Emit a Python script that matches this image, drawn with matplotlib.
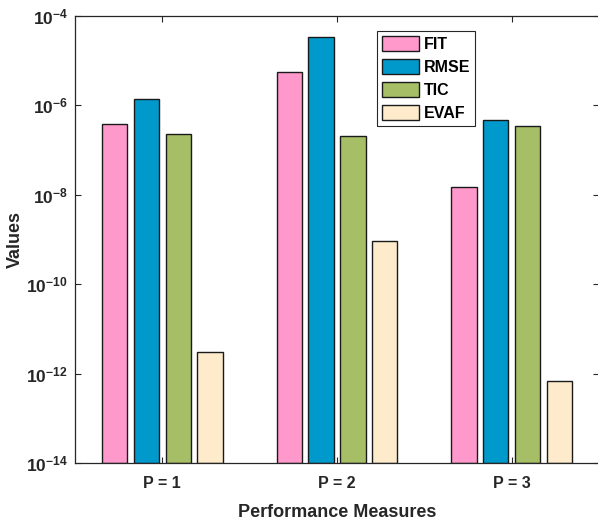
import numpy as np
import matplotlib
matplotlib.use("Agg")
import matplotlib.pyplot as plt
from matplotlib.ticker import FixedLocator, FuncFormatter, NullLocator

plt.rcParams['font.family'] = ['Liberation Sans', 'DejaVu Sans']
plt.rcParams['font.weight'] = 'bold'
plt.rcParams['mathtext.fontset'] = 'custom'
plt.rcParams['mathtext.rm'] = 'Liberation Sans:bold'
plt.rcParams['mathtext.it'] = 'Liberation Sans:bold'
plt.rcParams['mathtext.bf'] = 'Liberation Sans:bold'

# data
groups = ["P = 1", "P = 2", "P = 3"]
series = ["FIT", "RMSE", "TIC", "EVAF"]
fit = [3.8e-7, 5.5e-6, 1.5e-8]
rmse = [1.4e-6, 3.4e-5, 4.7e-7]
tic = [2.25e-7, 2.1e-7, 3.5e-7]
evaf = [3.1e-12, 9.3e-10, 6.6e-13]
colors = ["#FF99CC", "#0099CC", "#A6BF66", "#FDEBCC"]

txt = "#262626"
fig = plt.figure(figsize=(5.98, 5.27), dpi=100)
ax = fig.add_axes([75/598, 64/527, 524/598, 447/527])

x = np.arange(1, len(groups) + 1)
step = 0.182
w = 0.145
for i, (name, vals) in enumerate(zip(series, [fit, rmse, tic, evaf])):
    ax.bar(x + (i - 1.5) * step, vals, width=w, bottom=1e-14, color=colors[i],
           edgecolor="#1a1a1a", linewidth=1.0, label=name)

ax.set_yscale("log")
ax.set_ylim(1e-14, 1e-4)
ax.set_xlim(0.5, 3.5)
ax.yaxis.set_major_locator(FixedLocator([1e-14, 1e-12, 1e-10, 1e-8, 1e-6, 1e-4]))
ax.yaxis.set_minor_locator(NullLocator())
ax.yaxis.set_major_formatter(FuncFormatter(lambda v, p: r"$10^{%d}$" % round(np.log10(v))))
ax.set_xticks(x)
ax.set_xticklabels(groups)
ax.tick_params(direction="in", length=4, width=0.8, top=True, right=True,
               colors=txt, labelsize=11.5, pad=9)
ax.tick_params(axis="y", labelsize=12.5, pad=5)
for s in ax.spines.values():
    s.set_color(txt)
    s.set_linewidth(0.9)

ax.set_xlabel("Performance Measures", fontsize=13, fontweight="bold", color=txt)
ax.set_ylabel("Values", fontsize=13, fontweight="bold", color=txt)
ax.xaxis.set_label_coords(0.5, -0.092)
ax.yaxis.set_label_coords(-0.098, 0.5)

leg = ax.legend(loc="upper left", bbox_to_anchor=(0.577, 0.966), fontsize=11.5,
                frameon=True, fancybox=False, edgecolor=txt, framealpha=1,
                handlelength=2.3, handleheight=1.05, labelspacing=0.45,
                handletextpad=0.3, borderpad=0.3, borderaxespad=0)
leg.get_frame().set_linewidth(0.8)
for t in leg.get_texts():
    t.set_color("black")

fig.savefig("out.png", dpi=100)
